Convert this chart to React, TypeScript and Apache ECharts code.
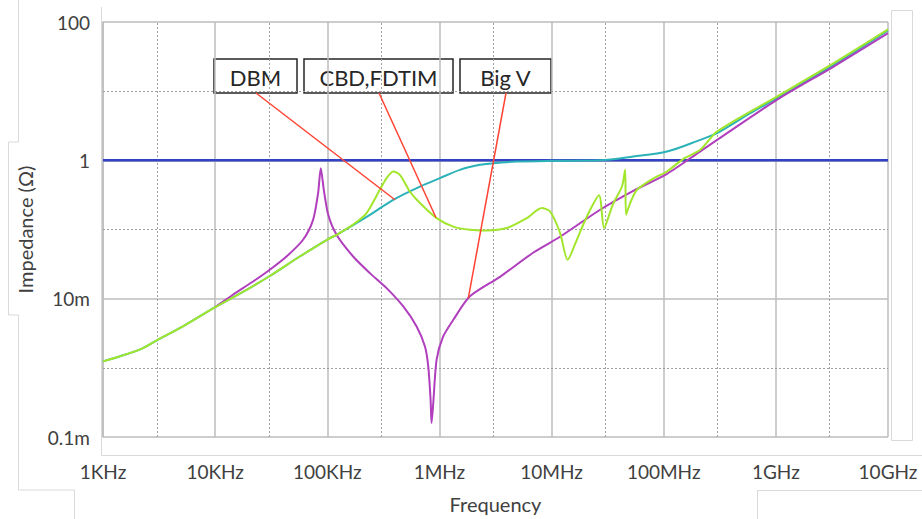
import { useEffect, useRef } from "react";
import * as echarts from "echarts";

// Tick labels (decades 1e3..1e10 Hz, and 1e-4, 1e-2, 1e0, 1e2 Ω)
const xTickLabels = ["1KHz", "10KHz", "100KHz", "1MHz", "10MHz", "100MHz", "1GHz", "10GHz"];
const yTickLabels = ["0.1m", "10m", "1", "100"];

// Target impedance (blue)
const targetFreq = [1e3, 1e10];
const targetZ = [1, 1];

// DBM (teal)
const dbmFreq = [1e3, 1.4e3, 2.12e3, 3.02e3, 5.16e3, 1.0e4, 1.66e4, 3.02e4, 5.68e4, 1.01e5, 1.21e5, 2.4e5, 3.87e5, 6.7e5, 1.01e6, 1.52e6, 2.3e6, 3.02e6, 4.89e6, 9.7e6, 2.71e7, 5.35e7, 1.07e8, 2.12e8, 2.99e8, 5.92e8, 1.02e9, 3.28e9, 1e10];
const dbmZ = [1.24e-3, 1.46e-3, 1.83e-3, 2.5e-3, 3.97e-3, 7.56e-3, 1.18e-2, 2.09e-2, 4.07e-2, 7.22e-2, 8.38e-2, 0.163, 0.269, 0.418, 0.553, 0.729, 0.861, 0.911, 0.96, 0.983, 1.0, 1.135, 1.34, 1.98, 2.47, 4.81, 7.93, 24.0, 75.6];

// CBD,FDTIM (green)
const cbdFreq = [1e3, 1.4e3, 2.12e3, 3.02e3, 5.16e3, 1.0e4, 1.66e4, 3.02e4, 5.68e4, 1.01e5, 1.21e5, 1.7e5, 2.24e5, 2.94e5, 3.38e5, 3.87e5, 4.44e5, 5.45e5, 6.7e5, 9.44e5, 1.33e6, 1.87e6, 2.64e6, 3.98e6, 6.01e6, 8.18e6, 9.7e6, 1.19e7, 1.39e7, 1.68e7, 2.06e7, 2.65e7, 2.94e7, 3.51e7, 4.24e7, 4.53e7, 4.61e7, 5.02e7, 5.77e7, 8.11e7, 1.07e8, 1.5e8, 2.12e8, 2.99e8, 1.02e9, 3.28e9, 1e10];
const cbdZ = [1.24e-3, 1.46e-3, 1.83e-3, 2.5e-3, 3.97e-3, 7.56e-3, 1.18e-2, 2.09e-2, 4.07e-2, 7.22e-2, 8.38e-2, 0.118, 0.173, 0.375, 0.553, 0.689, 0.617, 0.354, 0.241, 0.146, 0.11, 0.099, 0.0968, 0.105, 0.146, 0.204, 0.182, 0.0896, 0.0365, 0.071, 0.153, 0.312, 0.105, 0.227, 0.418, 0.729, 0.163, 0.241, 0.375, 0.55, 0.69, 1.05, 1.42, 2.61, 8.36, 25.4, 78.2];

// Big V (purple)
const bigVFreq = [1.0e4, 1.44e4, 2.18e4, 3.07e4, 4.33e4, 6.08e4, 7.47e4, 8.28e4, 8.75e4, 9.31e4, 1.02e5, 1.21e5, 1.7e5, 2.4e5, 3.38e5, 4.76e5, 6.26e5, 7.43e5, 7.95e5, 8.34e5, 8.51e5, 8.81e5, 9.44e5, 1.08e6, 1.33e6, 1.87e6, 3.47e6, 6.84e6, 1.19e7, 2.71e7, 5.35e7, 1.07e8, 2.12e8, 1.02e9, 3.28e9, 1e10];
const bigVZ = [7.56e-3, 1.14e-2, 1.77e-2, 2.62e-2, 4.07e-2, 7.1e-2, 0.138, 0.336, 0.771, 0.375, 0.163, 0.0838, 0.0407, 0.0234, 0.0142, 7.71e-3, 3.97e-3, 2.04e-3, 1.05e-3, 3.46e-4, 1.59e-4, 3.1e-4, 1.31e-3, 2.84e-3, 4.95e-3, 1.08e-2, 2.07e-2, 4.61e-2, 7.85e-2, 0.193, 0.362, 0.638, 1.35, 7.49, 22.7, 68.9];

// Annotations
const annLabels = ["DBM", "CBD,FDTIM", "Big V"];
const annTipFreq = [4.01e5, 9.31e5, 1.81e6];
const annTipZ = [0.269, 0.149, 0.0102];

const L = Math.log10;
const pts = (fs: number[], zs: number[]) => fs.map((f, i) => [L(f), L(zs[i])]);

const FONT = "Lato, 'Liberation Sans', sans-serif";
const TICK = "#404040";
const GRID = "#bdbdbd";
const DOT = "#a0a0a0";

export default function App() {
  const ref = useRef<HTMLDivElement>(null);
  useEffect(() => {
    document.body.style.margin = "0";
    const chart = echarts.init(ref.current!, null, { renderer: "svg" });

    const boxes = [
      { left: 214, width: 83, anchor: 256 },
      { left: 304, width: 149, anchor: 379 },
      { left: 460, width: 91, anchor: 506 },
    ];
    const boxTop = 59;
    const boxH = 34;

    const minorX: number[] = [];
    for (let k = 3; k < 10; k++) minorX.push(k + L(3));

    const faint = "#d9d9d9";
    const frameLines = [
      [[18.5, 0], [18.5, 142], [8.5, 142], [8.5, 315], [18.5, 315], [18.5, 490], [74.5, 490], [74.5, 519]],
      [[101.5, 7], [101.5, 455.5], [922, 455.5]],
      [[891.5, 440.5], [891.5, 10.5], [912.5, 10.5], [912.5, 440.5], [891.5, 440.5]],
      [[757.5, 519], [757.5, 490.5], [922, 490.5]],
    ];

    chart.setOption({
      animation: false,
      backgroundColor: "#ffffff",
      grid: { left: 103, right: 34, top: 22, bottom: 82 },
      xAxis: {
        type: "value",
        min: 3,
        max: 10,
        interval: 1,
        name: "Frequency",
        nameLocation: "middle",
        nameGap: 57,
        nameTextStyle: { fontFamily: FONT, fontSize: 20, color: TICK },
        axisLabel: {
          formatter: (v: number) => xTickLabels[Math.round(v - 3)] ?? "",
          fontFamily: FONT,
          fontSize: 19,
          color: TICK,
          margin: 25,
        },
        axisTick: { show: false },
        axisLine: { lineStyle: { color: GRID, width: 1.5 } },
        splitLine: { lineStyle: { color: GRID, width: 1.5 } },
      },
      yAxis: {
        type: "value",
        min: -4,
        max: 2,
        interval: 2,
        name: "Impedance (Ω)",
        nameLocation: "middle",
        nameGap: 68,
        nameRotate: 90,
        nameTextStyle: { fontFamily: FONT, fontSize: 20, color: TICK },
        axisLabel: {
          formatter: (v: number) => yTickLabels[Math.round((v + 4) / 2)] ?? "",
          fontFamily: FONT,
          fontSize: 19,
          color: TICK,
          margin: 13,
        },
        axisTick: { show: false },
        axisLine: { lineStyle: { color: GRID, width: 1.5 } },
        splitLine: { lineStyle: { color: GRID, width: 1.5 } },
      },
      series: [
        {
          name: "Target",
          type: "line",
          data: pts(targetFreq, targetZ),
          showSymbol: false,
          lineStyle: { color: "#3342c4", width: 2.5 },
          markLine: {
            silent: true,
            z: 1,
            symbol: ["none", "none"],
            label: { show: false },
            lineStyle: { color: DOT, type: [2, 2], width: 1 },
            data: [
              ...minorX.map((v) => ({ xAxis: v })),
              { yAxis: -3 },
              { yAxis: -1 },
              { yAxis: 1 },
            ],
          },
        },
        {
          name: "DBM",
          type: "line",
          data: pts(dbmFreq, dbmZ),
          showSymbol: false,
          smooth: 0.3,
          lineStyle: { color: "#2bb2b8", width: 2 },
        },
        {
          name: "Big V",
          type: "line",
          data: pts(bigVFreq, bigVZ),
          showSymbol: false,
          smooth: 0.25,
          lineStyle: { color: "#b03ebd", width: 2 },
        },
        {
          name: "CBD,FDTIM",
          type: "line",
          data: pts(cbdFreq, cbdZ),
          showSymbol: false,
          smooth: 0.25,
          lineStyle: { color: "#a2e62c", width: 2 },
          markLine: {
            silent: true,
            symbol: ["none", "none"],
            label: { show: false },
            lineStyle: { color: "#ff4433", type: "solid", width: 1.5 },
            data: annLabels.map((_, i) => [
              { x: boxes[i].anchor, y: boxTop + boxH },
              { coord: [L(annTipFreq[i]), L(annTipZ[i])] },
            ]),
          },
        },
      ],
      graphic: [
        ...frameLines.map((p) => ({
          type: "polyline",
          z: 0,
          silent: true,
          shape: { points: p },
          style: { stroke: faint, lineWidth: 1, fill: null },
        })),
        ...annLabels.map((t, i) => ({
          type: "group",
          x: boxes[i].left,
          y: boxTop,
          z: 20,
          children: [
            {
              type: "rect",
              shape: { x: 0, y: 0, width: boxes[i].width, height: boxH },
              style: { fill: "#ffffff", stroke: "#262626", lineWidth: 1.5 },
            },
            {
              type: "text",
              style: {
                text: t,
                x: boxes[i].width / 2,
                y: boxH / 2 + 1,
                align: "center",
                verticalAlign: "middle",
                textAlign: "center",
                textVerticalAlign: "middle",
                fontFamily: FONT,
                fontSize: 22,
                fill: "#262626",
              },
            },
          ],
        })),
      ],
    });
    return () => chart.dispose();
  }, []);
  return (
    <div
      ref={ref}
      style={{ position: "fixed", left: 0, top: 0, width: 922, height: 519, background: "#fff" }}
    />
  );
}
